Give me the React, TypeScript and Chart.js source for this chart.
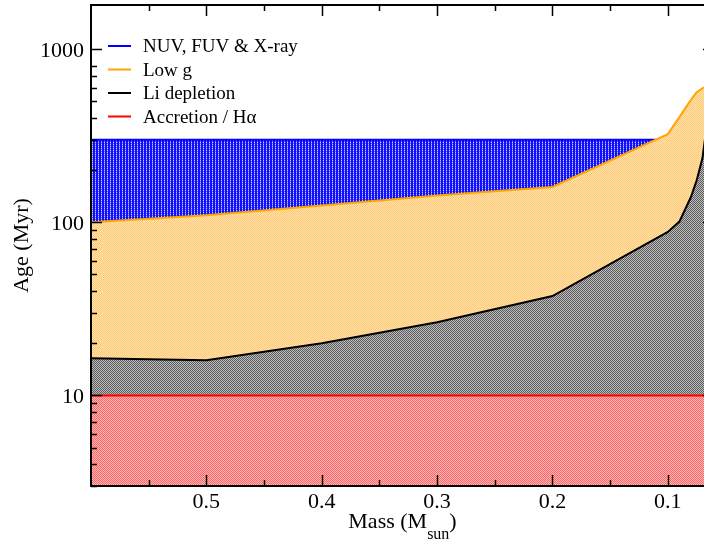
import React, { useEffect, useRef } from 'react';
import { Chart, registerables } from 'chart.js';

Chart.register(...registerables);

// ---- data ----
const massPoints = [0.6, 0.5, 0.4, 0.3, 0.2, 0.1, 0.09, 0.08, 0.075, 0.07, 0.065, 0.06];
const lowGAge = [100, 110, 125, 143, 160, 323, 405, 510, 565, 595, 620, 650];
const liDepletionAge = [16.4, 16.0, 20, 26.5, 37.5, 88, 101, 140, 175, 235, 420, 700];
const uvMass = [0.6, 0.1105];
const uvAge = [300, 300];
const accretionMass = [0.6, 0.06];
const accretionAge = [10, 10];

const seriesLabels = ['NUV, FUV & X-ray', 'Low g', 'Li depletion', 'Accretion / H\u03b1'];
const seriesColors = ['#0000ff', '#ffa500', '#000000', '#ff0000'];

const xMajorTicks = [0.1, 0.2, 0.3, 0.4, 0.5];
const xTickLabels = ['0.1', '0.2', '0.3', '0.4', '0.5'];
const xMinorTicks = [0.15, 0.25, 0.35, 0.45, 0.55];
const yMajorTicks = [10, 100, 1000];
const yTickLabels = ['10', '100', '1000'];
const yMinorTicks = [3, 4, 5, 6, 7, 8, 9, 20, 30, 40, 50, 60, 70, 80, 90, 200, 300, 400, 500, 600, 700, 800];

const SERIF = '"Liberation Serif", "DejaVu Serif", serif';

function makeTile(w: number, h: number, draw: (c: CanvasRenderingContext2D) => void) {
  const c = document.createElement('canvas');
  c.width = w;
  c.height = h;
  const x = c.getContext('2d')!;
  draw(x);
  return c;
}

function checker(ctx: CanvasRenderingContext2D, a: string, b: string) {
  const tile = makeTile(2, 2, (c) => {
    c.fillStyle = b;
    c.fillRect(0, 0, 2, 2);
    c.fillStyle = a;
    c.fillRect(0, 0, 1, 1);
    c.fillRect(1, 1, 1, 1);
  });
  return ctx.createPattern(tile, 'repeat')!;
}

export default function App() {
  const ref = useRef<HTMLCanvasElement>(null);

  useEffect(() => {
    const canvas = ref.current!;
    const ctx = canvas.getContext('2d')!;

    const blueTile = makeTile(3, 2, (c) => {
      c.fillStyle = '#1010ff';
      c.fillRect(0, 0, 3, 2);
      c.fillStyle = '#c8c8ff';
      c.fillRect(2, 0, 1, 1);
      c.fillStyle = '#6060ff';
      c.fillRect(2, 1, 1, 1);
    });
    const bluePattern = ctx.createPattern(blueTile, 'repeat')!;
    const orangePattern = checker(ctx, '#ffc870', '#ffe3b0');
    const blackPattern = checker(ctx, '#5c5c5c', '#bcbcbc');
    const redPattern = checker(ctx, '#ff6464', '#ffb8b8');

    const decor = {
      id: 'decor',
      afterDraw(chart: any) {
        const c: CanvasRenderingContext2D = chart.ctx;
        const a = chart.chartArea;
        const xs = chart.scales.x;
        const ys = chart.scales.y;
        c.save();
        c.strokeStyle = '#000';
        // ticks
        c.lineWidth = 1.5;
        const xt = (v: number, len: number) => {
          const p = Math.round(xs.getPixelForValue(v)) + 0.5;
          c.beginPath();
          c.moveTo(p, a.bottom);
          c.lineTo(p, a.bottom - len);
          c.moveTo(p, a.top);
          c.lineTo(p, a.top + len);
          c.stroke();
        };
        const yt = (v: number, len: number) => {
          const p = Math.round(ys.getPixelForValue(v)) + 0.5;
          c.beginPath();
          c.moveTo(a.left, p);
          c.lineTo(a.left + len, p);
          c.moveTo(a.right, p);
          c.lineTo(a.right - len, p);
          c.stroke();
        };
        xMajorTicks.forEach((v) => xt(v, 11));
        xMinorTicks.forEach((v) => xt(v, 6));
        yMajorTicks.forEach((v) => yt(v, 11));
        yMinorTicks.forEach((v) => yt(v, 6));
        // frame
        c.lineWidth = 2;
        c.strokeRect(a.left, a.top, a.right - a.left, a.bottom - a.top);

        // tick labels
        c.fillStyle = '#000';
        c.font = `22px ${SERIF}`;
        c.textBaseline = 'alphabetic';
        c.textAlign = 'center';
        xMajorTicks.forEach((v, i) => {
          c.fillText(xTickLabels[i], xs.getPixelForValue(v), 508);
        });
        c.textAlign = 'right';
        yMajorTicks.forEach((v, i) => {
          c.fillText(yTickLabels[i], 84, ys.getPixelForValue(v) + 7.5);
        });

        // y title
        c.save();
        c.translate(28, (a.top + a.bottom) / 2);
        c.rotate(-Math.PI / 2);
        c.textAlign = 'center';
        c.font = `22px ${SERIF}`;
        c.fillText('Age (Myr)', 0, 0);
        c.restore();

        // x title with subscript
        const mainFont = `22px ${SERIF}`;
        const subFont = `16px ${SERIF}`;
        c.font = mainFont;
        const w1 = c.measureText('Mass (M').width;
        const w3 = c.measureText(')').width;
        c.font = subFont;
        const w2 = c.measureText('sun').width;
        const total = w1 + w2 + w3;
        let sx = (a.left + a.right) / 2 - total / 2;
        c.textAlign = 'left';
        c.font = mainFont;
        c.fillText('Mass (M', sx, 528);
        sx += w1;
        c.font = subFont;
        c.fillText('sun', sx, 539);
        sx += w2;
        c.font = mainFont;
        c.fillText(')', sx, 528);

        // legend
        c.font = `19px ${SERIF}`;
        c.lineWidth = 2;
        seriesLabels.forEach((lab, i) => {
          const y = 46 + i * 23.5;
          c.strokeStyle = seriesColors[i];
          c.beginPath();
          c.moveTo(108, y);
          c.lineTo(131, y);
          c.stroke();
          c.fillStyle = '#000';
          c.fillText(lab, 143, y + 6);
        });
        c.restore();
      },
    };

    const chart = new Chart(canvas, {
      type: 'line',
      data: {
        datasets: [
          {
            label: seriesLabels[0],
            data: uvMass.map((m, i) => ({ x: m, y: uvAge[i] })),
            borderColor: seriesColors[0],
            backgroundColor: bluePattern,
            borderWidth: 2,
            fill: 'start',
            order: 3,
          },
          {
            label: seriesLabels[1],
            data: massPoints.map((m, i) => ({ x: m, y: lowGAge[i] })),
            borderColor: seriesColors[1],
            backgroundColor: orangePattern,
            borderWidth: 2,
            fill: 'start',
            order: 2,
          },
          {
            label: seriesLabels[2],
            data: massPoints.map((m, i) => ({ x: m, y: liDepletionAge[i] })),
            borderColor: seriesColors[2],
            backgroundColor: blackPattern,
            borderWidth: 2,
            fill: 'start',
            order: 1,
          },
          {
            label: seriesLabels[3],
            data: accretionMass.map((m, i) => ({ x: m, y: accretionAge[i] })),
            borderColor: seriesColors[3],
            backgroundColor: redPattern,
            borderWidth: 2,
            fill: 'start',
            order: 0,
          },
        ],
      },
      options: {
        animation: false,
        responsive: false,
        devicePixelRatio: 1,
        layout: { padding: { left: 91, top: 5, right: 6, bottom: 56 } },
        elements: { point: { radius: 0 }, line: { tension: 0 } },
        scales: {
          x: { type: 'linear', reverse: true, min: 0.06, max: 0.6, display: false },
          y: { type: 'logarithmic', min: 3, max: 1800, display: false },
        },
        plugins: { legend: { display: false }, tooltip: { enabled: false } },
      },
      plugins: [decor],
    } as any);

    return () => chart.destroy();
  }, []);

  return (
    <div
      style={{
        position: 'fixed',
        left: 0,
        top: 0,
        width: 704,
        height: 542,
        overflow: 'hidden',
        background: '#fff',
      }}
    >
      <canvas ref={ref} width={720} height={542} style={{ width: 720, height: 542, display: 'block' }} />
    </div>
  );
}
